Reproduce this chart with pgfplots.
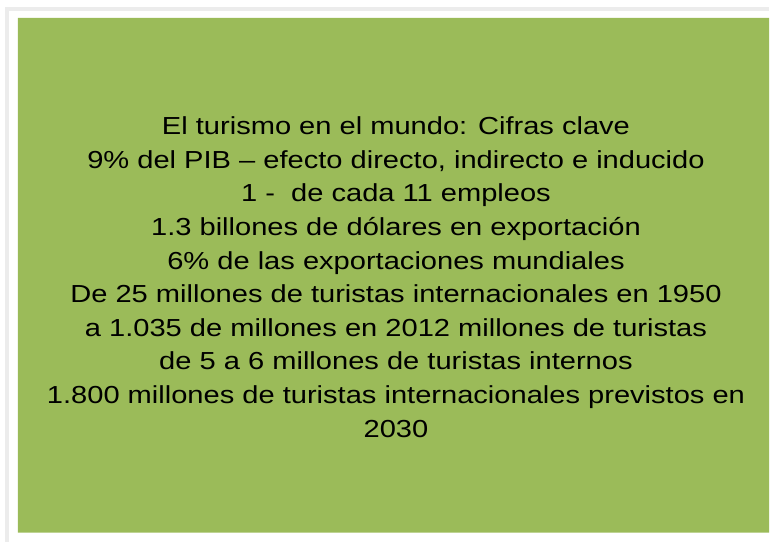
\documentclass[border=0pt]{standalone}
\usepackage{fontspec}
\setmainfont{Liberation Sans}
\usepackage{pgfplots}
\pgfplotsset{compat=1.18}
\definecolor{boxgreen}{RGB}{155,187,89}
\definecolor{framegray}{RGB}{236,236,236}
\begin{document}
\begin{tikzpicture}
\begin{axis}[
  scale only axis, width=771bp, height=543bp,
  xmin=0, xmax=771, ymin=0, ymax=543,
  hide axis, clip=false,
]
\path (axis cs:0,0) rectangle (axis cs:771,543);
% faint frame
\addplot[draw=framegray, line width=4bp, forget plot] coordinates {(7.5,0) (7.5,534) (771,534)};
% green box
\addplot[fill=boxgreen, draw=none, forget plot] coordinates {(18,9) (771,9) (771,525) (18,525) (18,9)};
\begin{scope}[every node/.style={anchor=base, inner sep=0pt, xscale=1.18, font=\fontsize{24.7bp}{33.7bp}\selectfont, text=black}]
\node at (axis cs:397,408.0) {El turismo en el mundo: Cifras clave};
\node at (axis cs:397,374.3) {9\% del PIB – efecto directo, indirecto e inducido};
\node at (axis cs:397,340.6) {1 -\ \ de cada 11 empleos};
\node at (axis cs:397,306.9) {1.3 billones de dólares en exportación};
\node at (axis cs:397,273.2) {6\% de las exportaciones mundiales};
\node at (axis cs:397,239.5) {De 25 millones de turistas internacionales en 1950};
\node at (axis cs:397,205.8) {a 1.035 de millones en 2012 millones de turistas};
\node at (axis cs:397,172.1) {de 5 a 6 millones de turistas internos};
\node at (axis cs:397,138.4) {1.800 millones de turistas internacionales previstos en};
\node at (axis cs:397,104.7) {2030};
\end{scope}
\end{axis}
\end{tikzpicture}
\end{document}
